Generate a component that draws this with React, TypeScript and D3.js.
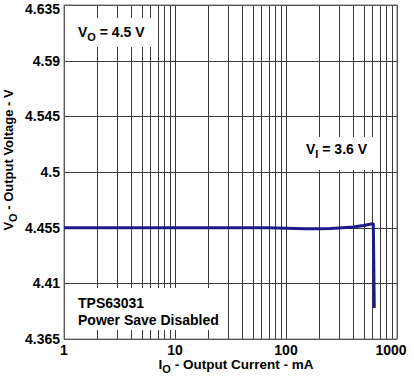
import React from "react";
import * as d3 from "d3";

const currents = [1, 2, 5, 10, 20, 50, 70, 100, 150, 200, 250, 300, 400, 500, 600, 612, 624];
const voltages = [4.455, 4.455, 4.455, 4.455, 4.455, 4.455, 4.4549, 4.4545, 4.4541, 4.4542, 4.4544, 4.4548, 4.4556, 4.4568, 4.4582, 4.4578, 4.39];
const yTicks = [4.365, 4.41, 4.455, 4.5, 4.545, 4.59, 4.635];
const xTickLabels = [1, 10, 100, 1000];

const W = 414, H = 384;
const L = 64, R = 397, T = 5, B = 339;
const FONT = "'Liberation Sans', Arial, sans-serif";

export default function App() {
  const x = d3.scaleLog().domain([1, 1000]).range([L, R]);
  const y = d3.scaleLinear().domain([4.365, 4.635]).range([B, T]);
  const xGrid: number[] = [];
  for (let k = 0; k < 3; k++) for (let m = 1; m <= 9; m++) xGrid.push(m * Math.pow(10, k));
  xGrid.push(1000);
  const line = d3.line<number>().x((_, i) => x(currents[i])).y((v) => y(v));
  return (
    <svg width={W} height={H} style={{ position: "absolute", left: 0, top: 0 }} fontFamily={FONT} fontWeight="bold">
      <rect x={0} y={0} width={W} height={H} fill="#fff" />
      {xGrid.map((g, i) => (
        <line key={"vx" + i} x1={Math.round(x(g)) + 0.5} x2={Math.round(x(g)) + 0.5} y1={T} y2={B} stroke="#3a3a3a" strokeWidth={1} />
      ))}
      {yTicks.map((t, i) => (
        <line key={"hy" + i} x1={L} x2={R} y1={Math.round(y(t)) + 0.5} y2={Math.round(y(t)) + 0.5} stroke="#3a3a3a" strokeWidth={1} />
      ))}
      <rect x={L} y={T} width={R - L} height={B - T} fill="none" stroke="#777" strokeWidth={1} />
      {/* text backgrounds */}
      <rect x={L + 1} y={18} width={90} height={29} fill="#fff" />
      <rect x={300} y={137} width={76} height={33} fill="#fff" />
      <rect x={L + 1} y={288} width={160} height={42} fill="#fff" />
      <path d={line(voltages) || ""} fill="none" stroke="#1a1a8a" strokeWidth={3} strokeLinejoin="round" />
      {yTicks.map((t, i) => (
        <text key={"yt" + i} x={60} y={i === yTicks.length - 1 ? y(t) + 3.5 : y(t)} dy="0.36em" textAnchor="end" fontSize={14} fill="#000">
          {String(t)}
        </text>
      ))}
      {xTickLabels.map((t, i) => (
        <text key={"xt" + i} x={i === 3 ? x(t) - 6 : x(t)} y={355} textAnchor="middle" fontSize={14} fill="#000">
          {String(t)}
        </text>
      ))}
      <text x={78} y={37} fontSize={14} fill="#000">
        V<tspan fontSize={11} dy={4}>O</tspan><tspan dy={-4}> = 4.5 V</tspan>
      </text>
      <text x={306} y={154} fontSize={14} fill="#000">
        V<tspan fontSize={11} dy={4}>I</tspan><tspan dy={-4}> = 3.6 V</tspan>
      </text>
      <text x={78} y={308} fontSize={14} fill="#000">TPS63031</text>
      <text x={78} y={325} fontSize={14} fill="#000">Power Save Disabled</text>
      <text x={236} y={369} textAnchor="middle" fontSize={13.5} fill="#000">
        I<tspan fontSize={11} dy={4}>O</tspan><tspan dy={-4}> - Output Current - mA</tspan>
      </text>
      <text transform={`translate(13,160) rotate(-90)`} textAnchor="middle" fontSize={13} fill="#000">
        V<tspan fontSize={11} dy={4}>O</tspan><tspan dy={-4}> - Output Voltage - V</tspan>
      </text>
    </svg>
  );
}
